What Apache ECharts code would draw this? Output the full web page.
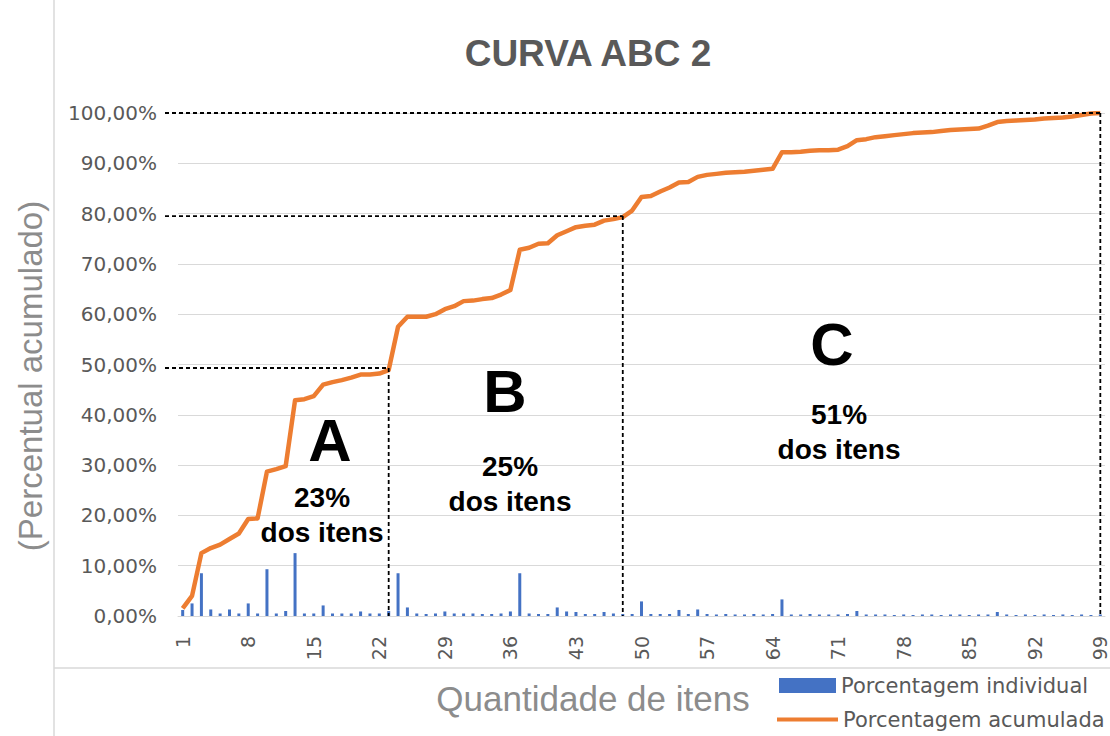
<!DOCTYPE html>
<html><head><meta charset="utf-8">
<script src="https://cdn.jsdelivr.net/npm/echarts@6/dist/echarts.min.js"></script>
<style>html,body{margin:0;padding:0;background:#fff}#c{width:1110px;height:736px}</style>
</head><body><div id="c"></div>
<script>
// ---- data ----
const categories = Array.from({length: 99}, (_, i) => String(i + 1));
const individual = [
  1.2, 2.5, 8.5, 1.3, 0.5, 1.3, 0.5, 2.5, 0.5, 9.3,
  0.5, 1.0, 12.5, 0.5, 0.5, 2.1, 0.5, 0.5, 0.5, 0.9,
  0.5, 0.5, 1.0, 8.5, 1.7, 0.5, 0.4, 0.5, 0.9, 0.5,
  0.5, 0.5, 0.4, 0.4, 0.5, 0.9, 8.5, 0.5, 0.4, 0.4,
  1.7, 0.9, 0.8, 0.4, 0.4, 0.8, 0.5, 0.4, 0.4, 2.9,
  0.4, 0.4, 0.4, 1.2, 0.4, 1.3, 0.4, 0.3, 0.4, 0.3,
  0.3, 0.4, 0.3, 0.4, 3.3, 0.3, 0.3, 0.4, 0.3, 0.3,
  0.3, 0.4, 1.0, 0.3, 0.3, 0.3, 0.2, 0.3, 0.2, 0.3,
  0.3, 0.2, 0.3, 0.3, 0.2, 0.3, 0.3, 0.8, 0.3, 0.2,
  0.3, 0.2, 0.3, 0.2, 0.3, 0.2, 0.3, 0.2, 0.3
];
const cumulative = [
  1.5, 4.0, 12.5, 13.5, 14.2, 15.3, 16.4, 19.3, 19.4, 28.7,
  29.2, 29.8, 42.9, 43.1, 43.7, 46.0, 46.5, 46.9, 47.4, 48.0,
  48.0, 48.2, 48.9, 57.5, 59.5, 59.5, 59.5, 60.0, 61.0, 61.6,
  62.6, 62.7, 63.0, 63.2, 63.9, 64.8, 72.8, 73.2, 74.0, 74.1,
  75.7, 76.5, 77.3, 77.6, 77.8, 78.6, 78.9, 79.3, 80.6, 83.3,
  83.5, 84.4, 85.2, 86.2, 86.3, 87.3, 87.7, 87.9, 88.1, 88.2,
  88.3, 88.5, 88.7, 88.9, 92.2, 92.2, 92.3, 92.5, 92.6, 92.6,
  92.7, 93.4, 94.6, 94.8, 95.2, 95.4, 95.6, 95.8, 96.0, 96.1,
  96.2, 96.4, 96.6, 96.7, 96.8, 96.9, 97.5, 98.2, 98.4, 98.5,
  98.6, 98.7, 98.9, 99.0, 99.1, 99.3, 99.6, 99.9, 100.0
];
const yTicks = [0, 10, 20, 30, 40, 50, 60, 70, 80, 90, 100];
const refCats = [23, 48, 99];
const refVals = [49.3, 79.5, 100];
const classLetters = ['A', 'B', 'C'];
const classShares = ['23%', '25%', '51%'];
const titleText = 'CURVA ABC 2';
const xTitle = 'Quantidade de itens';
const yTitle = '(Percentual acumulado)';
const seriesNames = ['Porcentagem individual', 'Porcentagem acumulada'];

// ---- chart ----
const chart = echarts.init(document.getElementById('c'), null, {renderer: 'svg'});
const gray = '#595959';
const legendText = {fontFamily: 'DejaVu Sans', fontSize: 21, color: gray};
chart.setOption({
  animation: false,
  backgroundColor: '#fff',
  grid: {left: 178, right: 5, top: 113, bottom: 120, containLabel: false},
  legend: [
    {left: 779, top: 675, itemWidth: 57, itemHeight: 15, itemGap: 6, padding: 0,
     textStyle: legendText, data: [{name: seriesNames[0], icon: 'rect'}]},
    {left: 777, top: 709, itemWidth: 61, itemHeight: 4, itemGap: 6, padding: 0,
     textStyle: legendText, data: [{name: seriesNames[1], icon: 'rect'}]}
  ],
  xAxis: {
    type: 'category', data: categories,
    axisTick: {show: false},
    axisLine: {lineStyle: {color: '#D9D9D9', width: 1}},
    axisLabel: {interval: 6, rotate: 90, margin: 20, fontFamily: 'DejaVu Sans', fontSize: 19, color: gray}
  },
  yAxis: {
    type: 'value', min: yTicks[0], max: yTicks[yTicks.length - 1], interval: 10,
    axisLine: {show: false}, axisTick: {show: false},
    splitLine: {lineStyle: {color: '#D9D9D9', width: 1}},
    axisLabel: {margin: 21, fontFamily: 'DejaVu Sans', fontSize: 20, color: gray,
      formatter: v => v.toFixed(2).replace('.', ',') + '%'}
  },
  series: [
    {name: seriesNames[0], type: 'bar', data: individual, barWidth: 3,
     itemStyle: {color: '#4472C4'}},
    {name: seriesNames[1], type: 'line', data: cumulative, symbol: 'none', z: 5,
     lineStyle: {color: '#ED7D31', width: 4.5, join: 'round'}, itemStyle: {color: '#ED7D31'}}
  ]
});

function build() {
  const g = [];
  // frame lines
  g.push({type: 'line', shape: {x1: 54, y1: 0, x2: 54, y2: 736}, style: {stroke: '#D9D9D9', lineWidth: 1.5}, silent: true});
  g.push({type: 'line', shape: {x1: 54, y1: 668, x2: 1110, y2: 668}, style: {stroke: '#D9D9D9', lineWidth: 1.5}, silent: true});
  // reference dashed lines
  const y0 = chart.convertToPixel({gridIndex: 0}, [0, 0])[1];
  refCats.forEach((c, i) => {
    const p = chart.convertToPixel({gridIndex: 0}, [categories.indexOf(String(c)), refVals[i]]);
    const dash = {stroke: '#000', lineWidth: 1.8, lineDash: [4, 3]};
    g.push({type: 'line', z: 10, shape: {x1: 165, y1: p[1], x2: p[0], y2: p[1]}, style: dash, silent: true});
    g.push({type: 'line', z: 10, shape: {x1: p[0], y1: p[1], x2: p[0], y2: y0}, style: dash, silent: true});
  });
  // title
  g.push({type: 'text', x: 588, y: 53, style: {text: titleText, fontFamily: 'Liberation Sans', fontWeight: 'bold', fontSize: 37, fill: gray, align: 'center', verticalAlign: 'middle'}});
  // axis titles
  g.push({type: 'text', x: 593, y: 698, style: {text: xTitle, fontFamily: 'Liberation Sans', fontSize: 35, fill: '#8C8C8C', align: 'center', verticalAlign: 'middle'}});
  g.push({type: 'text', x: 30, y: 376, rotation: Math.PI / 2, style: {text: yTitle, fontFamily: 'Liberation Sans', fontSize: 33, fill: '#8C8C8C', align: 'center', verticalAlign: 'middle'}});
  // class annotations
  const letterPos = [[330, 440], [505, 391], [832, 344]];
  const sharePos = [[322, 515], [510, 484], [839, 432]];
  classLetters.forEach((L, i) => {
    g.push({type: 'text', z: 20, x: letterPos[i][0], y: letterPos[i][1], style: {text: L, fontFamily: 'Liberation Sans', fontWeight: 'bold', fontSize: 60, fill: '#000', align: 'center', verticalAlign: 'middle'}});
    g.push({type: 'text', z: 20, x: sharePos[i][0], y: sharePos[i][1], style: {text: classShares[i] + '\ndos itens', fontFamily: 'Liberation Sans', fontWeight: 'bold', fontSize: 28, lineHeight: 35, fill: '#000', align: 'center', verticalAlign: 'middle'}});
  });
  chart.setOption({graphic: g});
}
build();
</script>
</body></html>
